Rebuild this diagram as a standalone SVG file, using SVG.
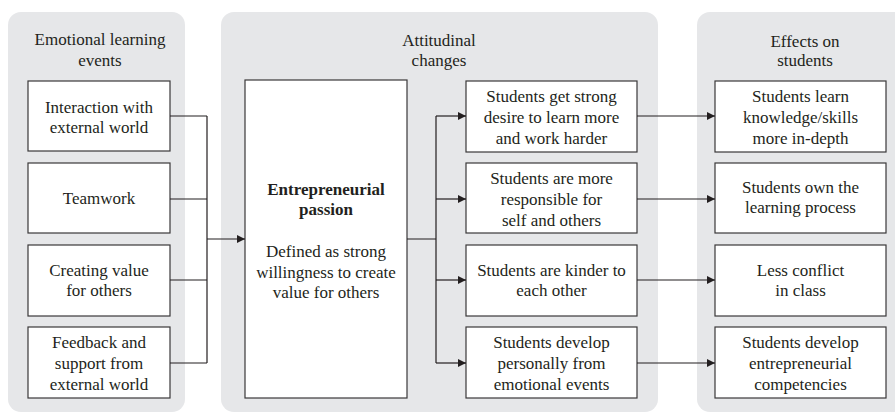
<svg xmlns="http://www.w3.org/2000/svg" width="895" height="413" viewBox="0 0 895 413">
<style>
.panel{fill:#e6e7e9;stroke:none}
.box{fill:#ffffff;stroke:#3a3839;stroke-width:1.2}
.t{font-family:"Liberation Serif","Times New Roman",serif;font-size:17px;fill:#231f20;text-anchor:middle}
.b{font-weight:bold}
.c{fill:none;stroke:#231f20;stroke-width:1.2}
</style>
<defs>
<marker id="arr" markerUnits="userSpaceOnUse" markerWidth="9" markerHeight="9" refX="8" refY="4" orient="auto">
<path d="M0,0 L8,4 L0,8 z" fill="#231f20"/>
</marker>
</defs>
<rect x="0" y="0" width="895" height="413" fill="#ffffff"/>
<g id="panel-left"><rect class="panel" x="8" y="12" width="177" height="400" rx="13"/>
<text class="t" x="100" y="45">Emotional learning</text><text class="t" x="100" y="66">events</text></g>
<g id="panel-middle"><rect class="panel" x="221" y="12" width="437" height="400" rx="13"/>
<text class="t" x="439" y="46">Attitudinal</text><text class="t" x="439" y="66">changes</text></g>
<g id="panel-right"><rect class="panel" x="697" y="12" width="210" height="400" rx="13"/>
<text class="t" x="805" y="47">Effects on</text><text class="t" x="805" y="66">students</text></g>

<g id="n-interaction"><rect class="box" x="28" y="81" width="142" height="70"/>
<text class="t" x="99" y="113">Interaction with</text><text class="t" x="99" y="133">external world</text></g>
<g id="n-teamwork"><rect class="box" x="28" y="163" width="142" height="70"/>
<text class="t" x="99" y="204">Teamwork</text></g>
<g id="n-creating"><rect class="box" x="28" y="245" width="142" height="71"/>
<text class="t" x="99" y="276">Creating value</text><text class="t" x="99" y="296">for others</text></g>
<g id="n-feedback"><rect class="box" x="28" y="327" width="142" height="71"/>
<text class="t" x="99" y="348">Feedback and</text><text class="t" x="99" y="369">support from</text><text class="t" x="99" y="390">external world</text></g>

<g id="n-passion"><rect class="box" x="245" y="80" width="162" height="318"/>
<text class="t b" x="326" y="195">Entrepreneurial</text><text class="t b" x="326" y="215">passion</text>
<text class="t" x="326" y="257">Defined as strong</text><text class="t" x="326" y="278">willingness to create</text><text class="t" x="326" y="298">value for others</text></g>

<g id="n-desire"><rect class="box" x="466" y="81" width="171" height="71"/>
<text class="t" x="551.5" y="102">Students get strong</text><text class="t" x="551.5" y="123">desire to learn more</text><text class="t" x="551.5" y="144">and work harder</text></g>
<g id="n-responsible"><rect class="box" x="466" y="163" width="171" height="70"/>
<text class="t" x="551.5" y="184">Students are more</text><text class="t" x="551.5" y="205">responsible for</text><text class="t" x="551.5" y="226">self and others</text></g>
<g id="n-kinder"><rect class="box" x="466" y="245" width="171" height="71"/>
<text class="t" x="551.5" y="276">Students are kinder to</text><text class="t" x="551.5" y="296">each other</text></g>
<g id="n-develop"><rect class="box" x="466" y="327" width="171" height="71"/>
<text class="t" x="551.5" y="348">Students develop</text><text class="t" x="551.5" y="369">personally from</text><text class="t" x="551.5" y="390">emotional events</text></g>

<g id="n-learn"><rect class="box" x="715" y="81" width="171" height="71"/>
<text class="t" x="800.5" y="102">Students learn</text><text class="t" x="800.5" y="123">knowledge/skills</text><text class="t" x="800.5" y="144">more in-depth</text></g>
<g id="n-own"><rect class="box" x="715" y="163" width="171" height="70"/>
<text class="t" x="800.5" y="193">Students own the</text><text class="t" x="800.5" y="213">learning process</text></g>
<g id="n-conflict"><rect class="box" x="715" y="245" width="171" height="71"/>
<text class="t" x="800.5" y="276">Less conflict</text><text class="t" x="800.5" y="296">in class</text></g>
<g id="n-competencies"><rect class="box" x="715" y="327" width="171" height="71"/>
<text class="t" x="800.5" y="348">Students develop</text><text class="t" x="800.5" y="369">entrepreneurial</text><text class="t" x="800.5" y="390">competencies</text></g>

<g id="connectors">
<path class="c" d="M170,116 H207 M170,199 H207 M170,280 H207 M170,363 H207 M207,116 V363"/>
<path class="c" d="M207,239 H245" marker-end="url(#arr)"/>
<path class="c" d="M407,239 H436 M436,116 V363"/>
<path class="c" d="M436,116 H466" marker-end="url(#arr)"/>
<path class="c" d="M436,199 H466" marker-end="url(#arr)"/>
<path class="c" d="M436,280 H466" marker-end="url(#arr)"/>
<path class="c" d="M436,363 H466" marker-end="url(#arr)"/>
<path class="c" d="M637,116 H715" marker-end="url(#arr)"/>
<path class="c" d="M637,199 H715" marker-end="url(#arr)"/>
<path class="c" d="M637,280 H715" marker-end="url(#arr)"/>
<path class="c" d="M637,363 H715" marker-end="url(#arr)"/>
</g>
</svg>
